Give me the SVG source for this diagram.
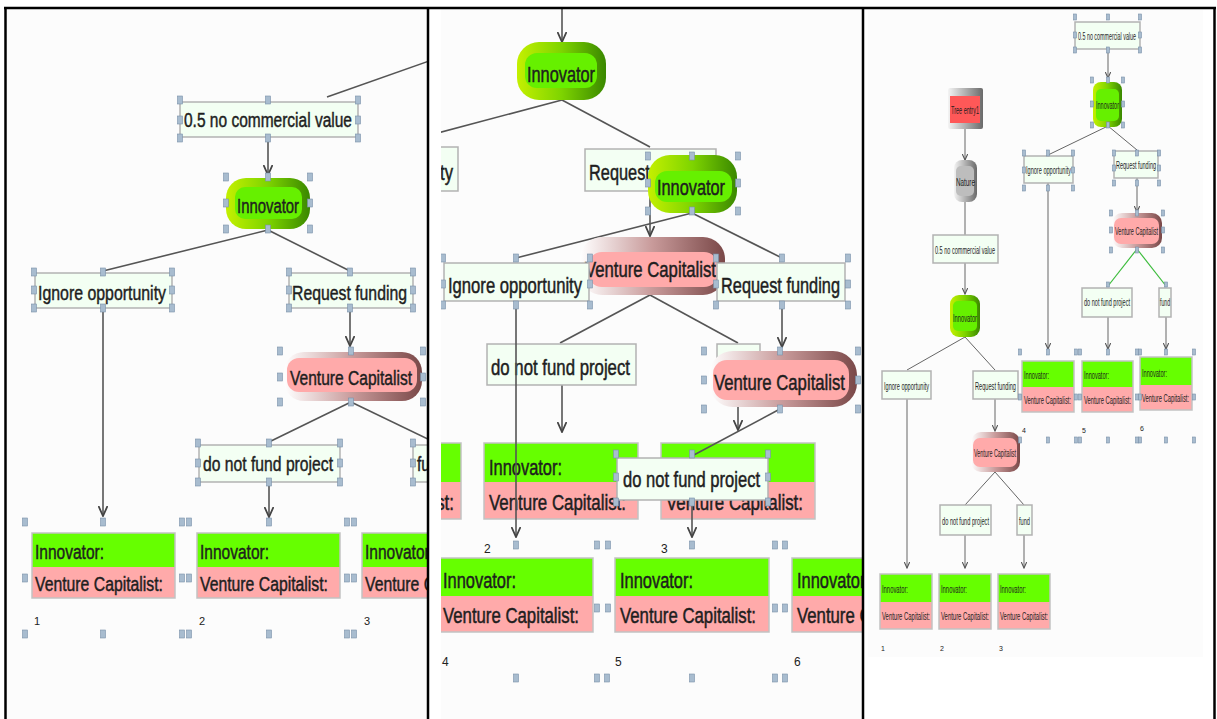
<svg xmlns="http://www.w3.org/2000/svg" width="1217" height="719" viewBox="0 0 1217 719">
<defs>
<style>
.bg{fill:#fcfcfc}
.fr{stroke:#000;stroke-width:2.5;fill:none}
.lbl{fill:#f3fff3;stroke:#b2b2b2;stroke-width:1.5}
.t{font-family:"Liberation Sans",Arial,sans-serif;fill:#1e1e1e}
.L{font-size:20px;stroke:#1e1e1e;stroke-width:0.45}
.M{font-size:22px;stroke:#1e1e1e;stroke-width:0.5}
.S{font-size:11px}
.n{font-family:"Liberation Sans",Arial,sans-serif;fill:#222}
.c{stroke:#555;stroke-width:1.6;fill:none}
.cs{stroke:#666;stroke-width:1;fill:none}
.cg{stroke:#3cbc3c;stroke-width:1.2;fill:none}
.g{fill:#66ff00}
.p{fill:#ffaaaa}
.lb{fill:none;stroke:#c2c2c2;stroke-width:1.5}
.h{fill:#a8bccf;stroke:#7890a8;stroke-width:0.6}
.ig{fill:#66f000}
</style>
<marker id="a" viewBox="0 0 10 10" refX="10" refY="5" markerUnits="userSpaceOnUse" markerWidth="11" markerHeight="10" orient="auto"><path d="M0,0.5 L10,5 L0,9.5" fill="none" stroke="#444" stroke-width="1.8"/></marker>
<marker id="as" viewBox="0 0 10 10" refX="10" refY="5" markerUnits="userSpaceOnUse" markerWidth="7" markerHeight="6" orient="auto"><path d="M0,0.5 L10,5 L0,9.5" fill="none" stroke="#555" stroke-width="1.8"/></marker>
<linearGradient id="gg" x1="0" y1="0" x2="1" y2="0"><stop offset="0" stop-color="#c4f000"/><stop offset="0.5" stop-color="#7ed400"/><stop offset="1" stop-color="#3a8800"/></linearGradient>
<linearGradient id="pg" x1="0" y1="0" x2="1" y2="0"><stop offset="0" stop-color="#ffffff"/><stop offset="0.5" stop-color="#c89a9a"/><stop offset="1" stop-color="#7a4848"/></linearGradient>
<linearGradient id="yg" x1="0" y1="0" x2="1" y2="0"><stop offset="0" stop-color="#f4f4f4"/><stop offset="1" stop-color="#6a6a6a"/></linearGradient>
<clipPath id="cL"><rect x="7" y="9" width="420" height="710"/></clipPath>
<clipPath id="cM"><rect x="441" y="9" width="421" height="710"/></clipPath>
</defs>
<rect width="1217" height="719" fill="#fff"/>
<rect class="bg" x="7" y="9" width="420" height="710"/>
<rect class="bg" x="441" y="9" width="421" height="710"/>
<rect class="bg" x="868" y="10" width="335" height="647"/>

<!-- LEFT PANEL -->
<g clip-path="url(#cL)">
<g id="L-connectors">
<line class="c" x1="327" y1="97" x2="432" y2="60"/>
<line class="c" x1="268" y1="138" x2="268" y2="175" marker-end="url(#a)"/>
<line class="c" x1="268" y1="230" x2="103" y2="271"/>
<line class="c" x1="268" y1="230" x2="350" y2="271"/>
<line class="c" x1="103" y1="308" x2="103" y2="516" marker-end="url(#a)"/>
<line class="c" x1="350" y1="308" x2="350" y2="346" marker-end="url(#a)"/>
<line class="c" x1="351" y1="402" x2="269" y2="442"/>
<line class="c" x1="351" y1="402" x2="432" y2="441"/>
<line class="c" x1="269" y1="482" x2="269" y2="517" marker-end="url(#a)"/>
</g>
<g id="L-chance">
<rect class="lbl" x="180" y="102" width="178" height="35"/>
<text class="t L" x="184" y="127" textLength="168" lengthAdjust="spacingAndGlyphs">0.5 no commercial value</text>
</g>
<g id="L-innovator">
<rect x="226" y="178" width="84" height="51" rx="20" fill="url(#gg)"/>
<rect class="ig" x="235" y="187" width="67" height="32" rx="10"/>
<text class="t L" x="237" y="213" textLength="62" lengthAdjust="spacingAndGlyphs">Innovator</text>
</g>
<g id="L-ignore">
<rect class="lbl" x="35" y="273" width="137" height="35"/>
<text class="t L" x="38" y="300" textLength="128" lengthAdjust="spacingAndGlyphs">Ignore opportunity</text>
</g>
<g id="L-request">
<rect class="lbl" x="289" y="273" width="124" height="35"/>
<text class="t L" x="292" y="300" textLength="115" lengthAdjust="spacingAndGlyphs">Request funding</text>
</g>
<g id="L-vc">
<rect x="284" y="352" width="138" height="49" rx="20" fill="url(#pg)"/>
<rect class="p" x="287" y="358" width="130" height="34" rx="12"/>
<text class="t L" x="290" y="385" textLength="122" lengthAdjust="spacingAndGlyphs">Venture Capitalist</text>
</g>
<g id="L-dnfp">
<rect class="lbl" x="199" y="445" width="141" height="37"/>
<text class="t L" x="203" y="471" textLength="130" lengthAdjust="spacingAndGlyphs">do not fund project</text>
</g>
<g id="L-fund">
<rect class="lbl" x="413" y="445" width="40" height="37"/>
<text class="t L" x="417" y="471" textLength="30" lengthAdjust="spacingAndGlyphs">fund</text>
</g>
<g id="L-leaf1">
<rect class="g" x="32" y="533" width="143" height="34"/><rect class="p" x="32" y="567" width="143" height="31"/><rect class="lb" x="32" y="533" width="143" height="65"/>
<text class="t L" x="35" y="559" textLength="69" lengthAdjust="spacingAndGlyphs">Innovator:</text>
<text class="t L" x="35" y="591" textLength="128" lengthAdjust="spacingAndGlyphs">Venture Capitalist:</text>
<text class="n" x="34" y="625" font-size="11">1</text>
</g>
<g id="L-leaf2">
<rect class="g" x="197" y="533" width="143" height="34"/><rect class="p" x="197" y="567" width="143" height="31"/><rect class="lb" x="197" y="533" width="143" height="65"/>
<text class="t L" x="200" y="559" textLength="69" lengthAdjust="spacingAndGlyphs">Innovator:</text>
<text class="t L" x="200" y="591" textLength="128" lengthAdjust="spacingAndGlyphs">Venture Capitalist:</text>
<text class="n" x="199" y="625" font-size="11">2</text>
</g>
<g id="L-leaf3">
<rect class="g" x="362" y="533" width="143" height="34"/><rect class="p" x="362" y="567" width="143" height="31"/><rect class="lb" x="362" y="533" width="143" height="65"/>
<text class="t L" x="365" y="559" textLength="69" lengthAdjust="spacingAndGlyphs">Innovator:</text>
<text class="t L" x="365" y="591" textLength="128" lengthAdjust="spacingAndGlyphs">Venture Capitalist:</text>
<text class="n" x="364" y="625" font-size="11">3</text>
</g>
<g id="L-handles">
<rect class="h" x="177.5" y="96" width="5" height="8"/><rect class="h" x="265.5" y="96" width="5" height="8"/><rect class="h" x="355.5" y="96" width="5" height="8"/>
<rect class="h" x="177.5" y="116" width="5" height="8"/><rect class="h" x="355.5" y="116" width="5" height="8"/>
<rect class="h" x="177.5" y="134" width="5" height="8"/><rect class="h" x="265.5" y="134" width="5" height="8"/><rect class="h" x="355.5" y="134" width="5" height="8"/>
<rect class="h" x="223.5" y="173" width="5" height="8"/><rect class="h" x="265.5" y="173" width="5" height="8"/><rect class="h" x="307.5" y="173" width="5" height="8"/>
<rect class="h" x="223.5" y="199" width="5" height="8"/><rect class="h" x="307.5" y="199" width="5" height="8"/>
<rect class="h" x="223.5" y="225" width="5" height="8"/><rect class="h" x="265.5" y="225" width="5" height="8"/><rect class="h" x="307.5" y="225" width="5" height="8"/>
<rect class="h" x="31.5" y="268" width="5" height="8"/><rect class="h" x="100.5" y="268" width="5" height="8"/><rect class="h" x="169.5" y="268" width="5" height="8"/>
<rect class="h" x="31.5" y="286" width="5" height="8"/><rect class="h" x="169.5" y="286" width="5" height="8"/>
<rect class="h" x="31.5" y="304" width="5" height="8"/><rect class="h" x="100.5" y="304" width="5" height="8"/><rect class="h" x="169.5" y="304" width="5" height="8"/>
<rect class="h" x="286.5" y="268" width="5" height="8"/><rect class="h" x="347.5" y="268" width="5" height="8"/><rect class="h" x="410.5" y="268" width="5" height="8"/>
<rect class="h" x="286.5" y="286" width="5" height="8"/><rect class="h" x="410.5" y="286" width="5" height="8"/>
<rect class="h" x="286.5" y="304" width="5" height="8"/><rect class="h" x="347.5" y="304" width="5" height="8"/><rect class="h" x="410.5" y="304" width="5" height="8"/>
<rect class="h" x="277.5" y="347" width="5" height="8"/><rect class="h" x="348.5" y="347" width="5" height="8"/><rect class="h" x="420.5" y="347" width="5" height="8"/>
<rect class="h" x="277.5" y="373" width="5" height="8"/><rect class="h" x="420.5" y="373" width="5" height="8"/>
<rect class="h" x="277.5" y="398" width="5" height="8"/><rect class="h" x="348.5" y="398" width="5" height="8"/><rect class="h" x="420.5" y="398" width="5" height="8"/>
<rect class="h" x="195.5" y="439" width="5" height="8"/><rect class="h" x="266.5" y="439" width="5" height="8"/><rect class="h" x="337.5" y="439" width="5" height="8"/>
<rect class="h" x="195.5" y="459" width="5" height="8"/><rect class="h" x="337.5" y="459" width="5" height="8"/>
<rect class="h" x="195.5" y="478" width="5" height="8"/><rect class="h" x="266.5" y="478" width="5" height="8"/><rect class="h" x="337.5" y="478" width="5" height="8"/>
<rect class="h" x="410.5" y="439" width="5" height="8"/><rect class="h" x="410.5" y="459" width="5" height="8"/><rect class="h" x="410.5" y="478" width="5" height="8"/>
<rect class="h" x="22.5" y="518" width="5" height="8"/><rect class="h" x="100.5" y="518" width="5" height="8"/><rect class="h" x="179.5" y="518" width="5" height="8"/><rect class="h" x="186.5" y="518" width="5" height="8"/><rect class="h" x="266.5" y="518" width="5" height="8"/><rect class="h" x="344.5" y="518" width="5" height="8"/><rect class="h" x="351.5" y="518" width="5" height="8"/>
<rect class="h" x="22.5" y="574" width="5" height="8"/><rect class="h" x="179.5" y="574" width="5" height="8"/><rect class="h" x="186.5" y="574" width="5" height="8"/><rect class="h" x="344.5" y="574" width="5" height="8"/><rect class="h" x="351.5" y="574" width="5" height="8"/>
<rect class="h" x="22.5" y="630" width="5" height="8"/><rect class="h" x="100.5" y="630" width="5" height="8"/><rect class="h" x="179.5" y="630" width="5" height="8"/><rect class="h" x="186.5" y="630" width="5" height="8"/><rect class="h" x="266.5" y="630" width="5" height="8"/><rect class="h" x="344.5" y="630" width="5" height="8"/><rect class="h" x="351.5" y="630" width="5" height="8"/>
</g>
</g>

<!-- MIDDLE PANEL -->
<g clip-path="url(#cM)">
<g id="M-connectors-back">
<line class="c" x1="562" y1="9" x2="562" y2="42" marker-end="url(#a)"/>
<line class="c" x1="562" y1="100" x2="430" y2="135"/>
<line class="c" x1="562" y1="100" x2="650" y2="147"/>
<line class="c" x1="650" y1="191" x2="650" y2="236" marker-end="url(#a)"/>
<line class="c" x1="692" y1="213" x2="516" y2="258"/>
<line class="c" x1="692" y1="213" x2="782" y2="258"/>
<line class="c" x1="650" y1="295" x2="560" y2="343"/>
<line class="c" x1="650" y1="295" x2="738" y2="343"/>
<line class="c" x1="562" y1="385" x2="562" y2="432" marker-end="url(#a)"/>
<line class="c" x1="738" y1="385" x2="738" y2="430" marker-end="url(#a)"/>
<line class="c" x1="782" y1="301" x2="782" y2="347" marker-end="url(#a)"/>
</g>
<g id="M-innovator1">
<rect x="517" y="42" width="89" height="58" rx="22" fill="url(#gg)"/>
<rect class="ig" x="525" y="53" width="72" height="35" rx="12"/>
<text class="t M" x="527" y="82" textLength="68" lengthAdjust="spacingAndGlyphs">Innovator</text>
</g>
<g id="M-ignore1">
<rect class="lbl" x="315" y="147" width="143" height="44"/>
<text class="t M" x="319" y="180" textLength="134" lengthAdjust="spacingAndGlyphs">Ignore opportunity</text>
</g>
<g id="M-request1">
<rect class="lbl" x="585" y="149" width="131" height="42"/>
<text class="t M" x="589" y="180" textLength="119" lengthAdjust="spacingAndGlyphs">Request funding</text>
</g>
<g id="M-vc1">
<rect x="580" y="237" width="145" height="58" rx="22" fill="url(#pg)"/>
<rect class="p" x="588" y="252" width="130" height="35" rx="14"/>
<text class="t M" x="585" y="277" textLength="131" lengthAdjust="spacingAndGlyphs">Venture Capitalist</text>
</g>
<g id="M-innovator2">
<rect x="648" y="155" width="89" height="58" rx="22" fill="url(#gg)"/>
<rect class="ig" x="655" y="171" width="77" height="31" rx="12"/>
<text class="t M" x="657" y="195" textLength="68" lengthAdjust="spacingAndGlyphs">Innovator</text>
</g>
<g id="M-ignore2">
<rect class="lbl" x="444" y="263" width="145" height="38"/>
<text class="t M" x="448" y="293" textLength="134" lengthAdjust="spacingAndGlyphs">Ignore opportunity</text>
</g>
<g id="M-request2">
<rect class="lbl" x="717" y="263" width="128" height="38"/>
<text class="t M" x="721" y="293" textLength="119" lengthAdjust="spacingAndGlyphs">Request funding</text>
</g>
<g id="M-dnfp1">
<rect class="lbl" x="487" y="344" width="149" height="41"/>
<text class="t M" x="491" y="375" textLength="139" lengthAdjust="spacingAndGlyphs">do not fund project</text>
</g>
<g id="M-fund1">
<rect class="lbl" x="717" y="344" width="43" height="41"/>
<text class="t M" x="721" y="375" textLength="34" lengthAdjust="spacingAndGlyphs">fund</text>
</g>
<g id="M-leafA">
<rect class="g" x="307" y="443" width="154" height="39"/><rect class="p" x="307" y="482" width="154" height="37"/><rect class="lb" x="307" y="443" width="154" height="76"/>
<text class="t M" x="312" y="475" textLength="73" lengthAdjust="spacingAndGlyphs">Innovator:</text>
<text class="t M" x="317" y="510" textLength="137" lengthAdjust="spacingAndGlyphs">Venture Capitalist:</text>
</g>
<g id="M-leafB">
<rect class="g" x="484" y="443" width="154" height="39"/><rect class="p" x="484" y="482" width="154" height="37"/><rect class="lb" x="484" y="443" width="154" height="76"/>
<text class="t M" x="489" y="475" textLength="73" lengthAdjust="spacingAndGlyphs">Innovator:</text>
<text class="t M" x="489" y="510" textLength="137" lengthAdjust="spacingAndGlyphs">Venture Capitalist:</text>
</g>
<g id="M-leafC">
<rect class="g" x="661" y="443" width="154" height="39"/><rect class="p" x="661" y="482" width="154" height="37"/><rect class="lb" x="661" y="443" width="154" height="76"/>
<text class="t M" x="666" y="475" textLength="73" lengthAdjust="spacingAndGlyphs">Innovator:</text>
<text class="t M" x="666" y="510" textLength="137" lengthAdjust="spacingAndGlyphs">Venture Capitalist:</text>
</g>
<g id="M-vc2">
<rect x="709" y="351" width="148" height="56" rx="24" fill="url(#pg)"/>
<rect class="p" x="713" y="360" width="136" height="40" rx="14"/>
<text class="t M" x="714" y="390" textLength="131" lengthAdjust="spacingAndGlyphs">Venture Capitalist</text>
</g>
<g id="M-connectors-front">
<line class="c" x1="516" y1="305" x2="516" y2="537" marker-end="url(#a)"/>
<line class="c" x1="780" y1="409" x2="692" y2="456"/>
<line class="c" x1="692" y1="502" x2="692" y2="537" marker-end="url(#a)"/>
</g>
<g id="M-dnfp2">
<rect class="lbl" x="617" y="458" width="151" height="42"/>
<text class="t M" x="623" y="487" textLength="137" lengthAdjust="spacingAndGlyphs">do not fund project</text>
</g>
<g id="M-leafD">
<rect class="g" x="420" y="558" width="173" height="38"/><rect class="p" x="420" y="596" width="173" height="36"/><rect class="lb" x="420" y="558" width="173" height="74"/>
<text class="t M" x="443" y="588" textLength="73" lengthAdjust="spacingAndGlyphs">Innovator:</text>
<text class="t M" x="443" y="623" textLength="136" lengthAdjust="spacingAndGlyphs">Venture Capitalist:</text>
<text class="n" x="442" y="666" font-size="12">4</text>
</g>
<g id="M-leafE">
<rect class="g" x="615" y="558" width="154" height="38"/><rect class="p" x="615" y="596" width="154" height="36"/><rect class="lb" x="615" y="558" width="154" height="74"/>
<text class="t M" x="620" y="588" textLength="73" lengthAdjust="spacingAndGlyphs">Innovator:</text>
<text class="t M" x="620" y="623" textLength="136" lengthAdjust="spacingAndGlyphs">Venture Capitalist:</text>
<text class="n" x="615" y="666" font-size="12">5</text>
</g>
<g id="M-leafF">
<rect class="g" x="792" y="558" width="154" height="38"/><rect class="p" x="792" y="596" width="154" height="36"/><rect class="lb" x="792" y="558" width="154" height="74"/>
<text class="t M" x="797" y="588" textLength="73" lengthAdjust="spacingAndGlyphs">Innovator:</text>
<text class="t M" x="797" y="623" textLength="136" lengthAdjust="spacingAndGlyphs">Venture Capitalist:</text>
<text class="n" x="794" y="666" font-size="12">6</text>
</g>
<text class="n" x="484" y="553" font-size="12">2</text>
<text class="n" x="661" y="553" font-size="12">3</text>
<g id="M-handles">
<rect class="h" x="645.5" y="152" width="5" height="8"/><rect class="h" x="689.5" y="152" width="5" height="8"/><rect class="h" x="735.5" y="152" width="5" height="8"/>
<rect class="h" x="645.5" y="179" width="5" height="8"/><rect class="h" x="735.5" y="179" width="5" height="8"/>
<rect class="h" x="645.5" y="207" width="5" height="8"/><rect class="h" x="689.5" y="207" width="5" height="8"/><rect class="h" x="735.5" y="207" width="5" height="8"/>
<rect class="h" x="440.5" y="254" width="5" height="8"/><rect class="h" x="513.5" y="254" width="5" height="8"/><rect class="h" x="587.5" y="254" width="5" height="8"/>
<rect class="h" x="440.5" y="280" width="5" height="8"/><rect class="h" x="587.5" y="280" width="5" height="8"/>
<rect class="h" x="440.5" y="301" width="5" height="8"/><rect class="h" x="513.5" y="301" width="5" height="8"/><rect class="h" x="587.5" y="301" width="5" height="8"/>
<rect class="h" x="713.5" y="254" width="5" height="8"/><rect class="h" x="779.5" y="254" width="5" height="8"/><rect class="h" x="845.5" y="254" width="5" height="8"/>
<rect class="h" x="713.5" y="280" width="5" height="8"/><rect class="h" x="845.5" y="280" width="5" height="8"/>
<rect class="h" x="713.5" y="301" width="5" height="8"/><rect class="h" x="779.5" y="301" width="5" height="8"/><rect class="h" x="845.5" y="301" width="5" height="8"/>
<rect class="h" x="701.5" y="347" width="5" height="8"/><rect class="h" x="777.5" y="347" width="5" height="8"/><rect class="h" x="855.5" y="347" width="5" height="8"/>
<rect class="h" x="701.5" y="376" width="5" height="8"/><rect class="h" x="855.5" y="376" width="5" height="8"/>
<rect class="h" x="701.5" y="405" width="5" height="8"/><rect class="h" x="777.5" y="405" width="5" height="8"/><rect class="h" x="855.5" y="405" width="5" height="8"/>
<rect class="h" x="613.5" y="450" width="5" height="8"/><rect class="h" x="689.5" y="450" width="5" height="8"/><rect class="h" x="765.5" y="450" width="5" height="8"/>
<rect class="h" x="613.5" y="473" width="5" height="8"/><rect class="h" x="765.5" y="473" width="5" height="8"/>
<rect class="h" x="613.5" y="498" width="5" height="8"/><rect class="h" x="689.5" y="498" width="5" height="8"/><rect class="h" x="765.5" y="498" width="5" height="8"/>
<rect class="h" x="513.5" y="541" width="5" height="8"/><rect class="h" x="594.5" y="541" width="5" height="8"/><rect class="h" x="605.5" y="541" width="5" height="8"/><rect class="h" x="689.5" y="541" width="5" height="8"/><rect class="h" x="772.5" y="541" width="5" height="8"/><rect class="h" x="782.5" y="541" width="5" height="8"/>
<rect class="h" x="594.5" y="604" width="5" height="8"/><rect class="h" x="605.5" y="604" width="5" height="8"/><rect class="h" x="772.5" y="604" width="5" height="8"/><rect class="h" x="782.5" y="604" width="5" height="8"/>
<rect class="h" x="513.5" y="674" width="5" height="8"/><rect class="h" x="594.5" y="674" width="5" height="8"/><rect class="h" x="604.5" y="674" width="5" height="8"/><rect class="h" x="689.5" y="674" width="5" height="8"/><rect class="h" x="772.5" y="674" width="5" height="8"/><rect class="h" x="782.5" y="674" width="5" height="8"/>
</g>
</g>

<!-- RIGHT PANEL -->
<g id="R-connectors">
<line class="cs" x1="1108" y1="50" x2="1108" y2="78" marker-end="url(#as)"/>
<line class="cs" x1="1108" y1="126" x2="1048" y2="155"/>
<line class="cs" x1="1108" y1="126" x2="1137" y2="150"/>
<line class="cs" x1="1137" y1="178" x2="1137" y2="212" marker-end="url(#as)"/>
<line class="cs" x1="1048" y1="183" x2="1048" y2="349" marker-end="url(#as)"/>
<line class="cg" x1="1137" y1="249" x2="1108" y2="286"/>
<line class="cg" x1="1137" y1="249" x2="1166" y2="286"/>
<line class="cs" x1="1108" y1="317" x2="1108" y2="349" marker-end="url(#as)"/>
<line class="cs" x1="1166" y1="317" x2="1166" y2="349" marker-end="url(#as)"/>
<line class="cs" x1="965" y1="129" x2="965" y2="160" marker-end="url(#as)"/>
<line class="cs" x1="965" y1="202" x2="965" y2="235"/>
<line class="cs" x1="965" y1="263" x2="965" y2="294" marker-end="url(#as)"/>
<line class="cs" x1="965" y1="337" x2="907" y2="370"/>
<line class="cs" x1="965" y1="337" x2="995" y2="370"/>
<line class="cs" x1="907" y1="399" x2="907" y2="568" marker-end="url(#as)"/>
<line class="cs" x1="995" y1="399" x2="995" y2="431" marker-end="url(#as)"/>
<line class="cs" x1="995" y1="472" x2="965" y2="505"/>
<line class="cs" x1="995" y1="472" x2="1024" y2="505"/>
<line class="cs" x1="965" y1="535" x2="965" y2="568" marker-end="url(#as)"/>
<line class="cs" x1="1024" y1="535" x2="1024" y2="568" marker-end="url(#as)"/>
</g>
<g id="R-chance-top">
<rect class="lbl" x="1075" y="22" width="65" height="27" stroke-width="1"/>
<text class="t S" x="1078" y="40" textLength="58" lengthAdjust="spacingAndGlyphs">0.5 no commercial value</text>
</g>
<g id="R-innovator-top">
<rect x="1093" y="82" width="29" height="45" rx="8" fill="url(#gg)"/>
<rect class="ig" x="1096" y="89" width="23" height="32" rx="5"/>
<text class="t S" x="1096" y="109" textLength="23" lengthAdjust="spacingAndGlyphs">Innovator</text>
</g>
<g id="R-ignore-top">
<rect class="lbl" x="1024" y="156" width="49" height="27" stroke-width="1"/>
<text class="t S" x="1026" y="174" textLength="45" lengthAdjust="spacingAndGlyphs">Ignore opportunity</text>
</g>
<g id="R-request-top">
<rect class="lbl" x="1114" y="151" width="44" height="27" stroke-width="1"/>
<text class="t S" x="1116" y="169" textLength="40" lengthAdjust="spacingAndGlyphs">Request funding</text>
</g>
<g id="R-vc-top">
<rect x="1112" y="213" width="50" height="35" rx="10" fill="url(#pg)"/>
<rect class="p" x="1114" y="218" width="45" height="26" rx="7"/>
<text class="t" font-size="10" x="1115" y="235" textLength="43" lengthAdjust="spacingAndGlyphs">Venture Capitalist</text>
</g>
<g id="R-dnfp-top">
<rect class="lbl" x="1082" y="288" width="50" height="29" stroke-width="1"/>
<text class="t S" x="1084" y="306" textLength="46" lengthAdjust="spacingAndGlyphs">do not fund project</text>
</g>
<g id="R-fund-top">
<rect class="lbl" x="1159" y="288" width="12" height="29" stroke-width="1"/>
<text class="t S" x="1160" y="306" textLength="10" lengthAdjust="spacingAndGlyphs">fund</text>
</g>
<g id="R-leaf4">
<rect class="g" x="1022" y="361" width="52" height="26"/><rect class="p" x="1022" y="387" width="52" height="25"/><rect class="lb" x="1022" y="361" width="52" height="51" stroke-width="1"/>
<text class="t" font-size="10" x="1024" y="379" textLength="25" lengthAdjust="spacingAndGlyphs">Innovator:</text>
<text class="t" font-size="10" x="1024" y="404" textLength="47" lengthAdjust="spacingAndGlyphs">Venture Capitalist:</text>
<text class="n" x="1022" y="433" font-size="7">4</text>
</g>
<g id="R-leaf5">
<rect class="g" x="1082" y="361" width="51" height="26"/><rect class="p" x="1082" y="387" width="51" height="25"/><rect class="lb" x="1082" y="361" width="51" height="51" stroke-width="1"/>
<text class="t" font-size="10" x="1084" y="379" textLength="25" lengthAdjust="spacingAndGlyphs">Innovator:</text>
<text class="t" font-size="10" x="1084" y="404" textLength="47" lengthAdjust="spacingAndGlyphs">Venture Capitalist:</text>
<text class="n" x="1082" y="433" font-size="7">5</text>
</g>
<g id="R-leaf6">
<rect class="g" x="1140" y="357" width="52" height="28"/><rect class="p" x="1140" y="385" width="52" height="25"/><rect class="lb" x="1140" y="357" width="52" height="53" stroke-width="1"/>
<text class="t" font-size="10" x="1142" y="377" textLength="25" lengthAdjust="spacingAndGlyphs">Innovator:</text>
<text class="t" font-size="10" x="1142" y="402" textLength="47" lengthAdjust="spacingAndGlyphs">Venture Capitalist:</text>
<text class="n" x="1140" y="431" font-size="7">6</text>
</g>
<g id="R-tree-entry">
<rect x="948" y="88" width="35" height="41" rx="2" fill="url(#yg)"/>
<rect x="950" y="96" width="30" height="27" fill="#ff5858"/>
<text class="t" font-size="10" x="951" y="114" textLength="28" lengthAdjust="spacingAndGlyphs">Tree entry1</text>
</g>
<g id="R-nature">
<rect x="954" y="160" width="23" height="42" rx="8" fill="url(#yg)"/>
<rect x="956" y="166" width="18" height="30" rx="5" fill="#bdbdbd"/>
<text class="t" font-size="10" x="956" y="186" textLength="19" lengthAdjust="spacingAndGlyphs">Nature</text>
</g>
<g id="R-chance">
<rect class="lbl" x="933" y="235" width="65" height="28" stroke-width="1"/>
<text class="t S" x="935" y="254" textLength="60" lengthAdjust="spacingAndGlyphs">0.5 no commercial value</text>
</g>
<g id="R-innovator">
<rect x="950" y="295" width="30" height="42" rx="9" fill="url(#gg)"/>
<rect class="ig" x="953" y="301" width="24" height="30" rx="5"/>
<text class="t S" x="953" y="322" textLength="24" lengthAdjust="spacingAndGlyphs">Innovator</text>
</g>
<g id="R-ignore">
<rect class="lbl" x="882" y="371" width="49" height="28" stroke-width="1"/>
<text class="t S" x="884" y="390" textLength="45" lengthAdjust="spacingAndGlyphs">Ignore opportunity</text>
</g>
<g id="R-request">
<rect class="lbl" x="973" y="371" width="45" height="28" stroke-width="1"/>
<text class="t S" x="975" y="390" textLength="41" lengthAdjust="spacingAndGlyphs">Request funding</text>
</g>
<g id="R-vc">
<rect x="971" y="432" width="49" height="40" rx="10" fill="url(#pg)"/>
<rect class="p" x="973" y="438" width="44" height="29" rx="7"/>
<text class="t" font-size="10" x="974" y="457" textLength="42" lengthAdjust="spacingAndGlyphs">Venture Capitalist</text>
</g>
<g id="R-dnfp">
<rect class="lbl" x="940" y="505" width="51" height="30" stroke-width="1"/>
<text class="t S" x="942" y="525" textLength="47" lengthAdjust="spacingAndGlyphs">do not fund project</text>
</g>
<g id="R-fund">
<rect class="lbl" x="1017" y="505" width="15" height="30" stroke-width="1"/>
<text class="t S" x="1019" y="525" textLength="11" lengthAdjust="spacingAndGlyphs">fund</text>
</g>
<g id="R-leaf1">
<rect class="g" x="880" y="574" width="52" height="28"/><rect class="p" x="880" y="602" width="52" height="27"/><rect class="lb" x="880" y="574" width="52" height="55" stroke-width="1"/>
<text class="t" font-size="10" x="882" y="593" textLength="26" lengthAdjust="spacingAndGlyphs">Innovator:</text>
<text class="t" font-size="10" x="882" y="620" textLength="48" lengthAdjust="spacingAndGlyphs">Venture Capitalist:</text>
<text class="n" x="881" y="651" font-size="7">1</text>
</g>
<g id="R-leaf2">
<rect class="g" x="939" y="574" width="52" height="28"/><rect class="p" x="939" y="602" width="52" height="27"/><rect class="lb" x="939" y="574" width="52" height="55" stroke-width="1"/>
<text class="t" font-size="10" x="941" y="593" textLength="26" lengthAdjust="spacingAndGlyphs">Innovator:</text>
<text class="t" font-size="10" x="941" y="620" textLength="48" lengthAdjust="spacingAndGlyphs">Venture Capitalist:</text>
<text class="n" x="940" y="651" font-size="7">2</text>
</g>
<g id="R-leaf3">
<rect class="g" x="998" y="574" width="52" height="28"/><rect class="p" x="998" y="602" width="52" height="27"/><rect class="lb" x="998" y="574" width="52" height="55" stroke-width="1"/>
<text class="t" font-size="10" x="1000" y="593" textLength="26" lengthAdjust="spacingAndGlyphs">Innovator:</text>
<text class="t" font-size="10" x="1000" y="620" textLength="48" lengthAdjust="spacingAndGlyphs">Venture Capitalist:</text>
<text class="n" x="999" y="651" font-size="7">3</text>
</g>
<g id="R-handles">
<rect class="h" x="1073.5" y="14" width="3" height="6"/><rect class="h" x="1106.5" y="14" width="3" height="6"/><rect class="h" x="1138.5" y="14" width="3" height="6"/>
<rect class="h" x="1073.5" y="32" width="3" height="6"/><rect class="h" x="1138.5" y="32" width="3" height="6"/>
<rect class="h" x="1073.5" y="47" width="3" height="6"/><rect class="h" x="1106.5" y="47" width="3" height="6"/><rect class="h" x="1138.5" y="47" width="3" height="6"/>
<rect class="h" x="1090.5" y="77" width="3" height="6"/><rect class="h" x="1106.5" y="77" width="3" height="6"/><rect class="h" x="1121.5" y="77" width="3" height="6"/>
<rect class="h" x="1090.5" y="101" width="3" height="6"/><rect class="h" x="1121.5" y="101" width="3" height="6"/>
<rect class="h" x="1090.5" y="122" width="3" height="6"/><rect class="h" x="1106.5" y="122" width="3" height="6"/><rect class="h" x="1121.5" y="122" width="3" height="6"/>
<rect class="h" x="1022.5" y="150" width="3" height="6"/><rect class="h" x="1046.5" y="150" width="3" height="6"/><rect class="h" x="1071.5" y="150" width="3" height="6"/>
<rect class="h" x="1022.5" y="167" width="3" height="6"/><rect class="h" x="1071.5" y="167" width="3" height="6"/>
<rect class="h" x="1022.5" y="185" width="3" height="6"/><rect class="h" x="1046.5" y="185" width="3" height="6"/><rect class="h" x="1071.5" y="185" width="3" height="6"/>
<rect class="h" x="1112.5" y="150" width="3" height="6"/><rect class="h" x="1135.5" y="150" width="3" height="6"/><rect class="h" x="1157.5" y="150" width="3" height="6"/>
<rect class="h" x="1112.5" y="165" width="3" height="6"/><rect class="h" x="1157.5" y="165" width="3" height="6"/>
<rect class="h" x="1112.5" y="180" width="3" height="6"/><rect class="h" x="1135.5" y="180" width="3" height="6"/><rect class="h" x="1157.5" y="180" width="3" height="6"/>
<rect class="h" x="1109.5" y="210" width="3" height="6"/><rect class="h" x="1135.5" y="210" width="3" height="6"/><rect class="h" x="1161.5" y="210" width="3" height="6"/>
<rect class="h" x="1109.5" y="227" width="3" height="6"/><rect class="h" x="1161.5" y="227" width="3" height="6"/>
<rect class="h" x="1109.5" y="247" width="3" height="6"/><rect class="h" x="1135.5" y="247" width="3" height="6"/><rect class="h" x="1161.5" y="247" width="3" height="6"/>
<rect class="h" x="1106.5" y="282" width="3" height="5"/><rect class="h" x="1164.5" y="282" width="3" height="5"/>
<rect class="h" x="1018.5" y="349" width="3" height="6"/><rect class="h" x="1046.5" y="349" width="3" height="6"/><rect class="h" x="1074.5" y="349" width="3" height="6"/><rect class="h" x="1078.5" y="349" width="3" height="6"/><rect class="h" x="1106.5" y="349" width="3" height="6"/><rect class="h" x="1135.5" y="349" width="3" height="6"/><rect class="h" x="1138.5" y="349" width="3" height="6"/><rect class="h" x="1164.5" y="349" width="3" height="6"/><rect class="h" x="1192.5" y="349" width="3" height="6"/>
<rect class="h" x="1018.5" y="394" width="3" height="6"/><rect class="h" x="1074.5" y="394" width="3" height="6"/><rect class="h" x="1078.5" y="394" width="3" height="6"/><rect class="h" x="1135.5" y="394" width="3" height="6"/><rect class="h" x="1138.5" y="394" width="3" height="6"/><rect class="h" x="1192.5" y="394" width="3" height="6"/>
<rect class="h" x="1018.5" y="437" width="3" height="6"/><rect class="h" x="1046.5" y="437" width="3" height="6"/><rect class="h" x="1074.5" y="437" width="3" height="6"/><rect class="h" x="1078.5" y="437" width="3" height="6"/><rect class="h" x="1106.5" y="437" width="3" height="6"/><rect class="h" x="1135.5" y="437" width="3" height="6"/><rect class="h" x="1138.5" y="437" width="3" height="6"/><rect class="h" x="1164.5" y="437" width="3" height="6"/><rect class="h" x="1192.5" y="437" width="3" height="6"/>
</g>

<!-- FRAME -->
<g id="frame">
<line class="fr" x1="4" y1="8" x2="1216" y2="8"/>
<line class="fr" x1="5.5" y1="8" x2="5.5" y2="719"/>
<line class="fr" x1="428" y1="8" x2="428" y2="719"/>
<line class="fr" x1="863" y1="8" x2="863" y2="719"/>
<line class="fr" x1="1214.5" y1="8" x2="1214.5" y2="719"/>
</g>
</svg>
